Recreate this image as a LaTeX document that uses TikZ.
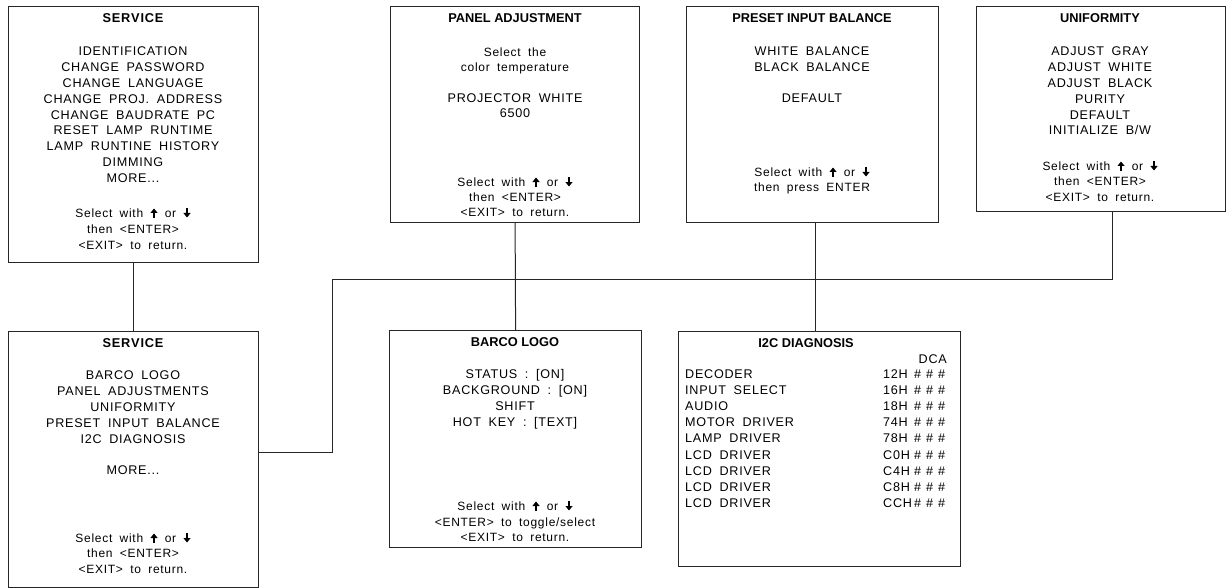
\documentclass[tikz,border=0pt]{standalone}
\usepackage{fontspec}
\usetikzlibrary{arrows.meta}
\setmainfont{Liberation Sans}
\newfontfamily\bodyf{Liberation Sans}[LetterSpace=6,WordSpace=1.8]
\newfontfamily\titlef{Liberation Sans}
\newcommand\uar{\tikz[baseline=0pt]{\draw[black, line width=1.5pt, -{Triangle[length=4.5pt,width=7pt]}] (0pt,-0.5pt) -- (0pt,9pt);}}
\newcommand\dar{\tikz[baseline=0pt]{\draw[black, line width=1.5pt, -{Triangle[length=4.5pt,width=7pt]}] (0pt,9.5pt) -- (0pt,0pt);}}
\newcommand\code[1]{\makebox[31pt][l]{#1}\#\hspace{5pt}\#\hspace{5pt}\#}
\tikzset{
  box/.style={draw=black!85, line width=1.2pt, rectangle, inner sep=0pt, anchor=north west},
  ttl/.style={font=\titlef\bfseries\fontsize{12.8}{14}\selectfont, anchor=base, inner sep=0pt},
  itm/.style={font=\bodyf\fontsize{12.6}{14}\selectfont, anchor=base, inner sep=0pt},
  hlp/.style={font=\bodyf\fontsize{12}{14}\selectfont, anchor=base, inner sep=0pt},
  row/.style={font=\bodyf\fontsize{12.6}{14}\selectfont, anchor=base west, inner sep=0pt},
  link/.style={draw=black!85, line width=1pt}
}
\begin{document}
\begin{tikzpicture}[x=1pt,y=-1pt]
\useasboundingbox (0,0) rectangle (1228,588);
% boxes
\node[box, minimum width=250, minimum height=256] (s1) at (8,6) {};
\node[box, minimum width=249, minimum height=216] (pa) at (390,6) {};
\node[box, minimum width=252, minimum height=216] (pib) at (686,6) {};
\node[box, minimum width=249, minimum height=205] (uni) at (976,6) {};
\node[box, minimum width=250, minimum height=256] (s2) at (8,331) {};
\node[box, minimum width=252, minimum height=217] (bl) at (389,330) {};
\node[box, minimum width=282, minimum height=235] (i2c) at (678,331) {};
% connectors
\coordinate (j1) at (332,279);
\coordinate (j2) at (1112,279);
\coordinate (c3) at (815,0);
\draw[link] (s1.south) -- (s2.north);
\draw[link] ([yshift=7pt]s2.east) -| (j1) -- (j2) -- (j2 |- uni.south);
\draw[link] (pa.south) -- (bl.north);
\draw[link] (pib.south -| c3) -- (i2c.north -| c3);
% SERVICE (top)
\node[ttl] (s1t) at (133,22.5) {S\kern0.8pt E\kern0.8pt R\kern0.8pt V\kern0.8pt I\kern0.8pt C\kern0.8pt E};
\node[itm] (s1a) at (133,55.5) {IDENTIFICATION};
\node[itm] (s1b) at (133,71.4) {CHANGE PASSWORD};
\node[itm] (s1c) at (133,87.3) {CHANGE LANGUAGE};
\node[itm] (s1d) at (133,103.2) {CHANGE PROJ. ADDRESS};
\node[itm] (s1e) at (133,119.1) {CHANGE BAUDRATE PC};
\node[itm] (s1f) at (133,135) {RESET LAMP RUNTIME};
\node[itm] (s1g) at (133,150.9) {LAMP RUNTINE HISTORY};
\node[itm] (s1h) at (133,166.8) {DIMMING};
\node[itm] (s1i) at (133,182.7) {MORE...};
\node[hlp] (s1x) at (133,217.5) {Select with \uar{} or \dar};
\node[hlp] (s1y) at (133,233.5) {then <ENTER>};
\node[hlp] (s1z) at (133,249.5) {<EXIT> to return.};
% PANEL ADJUSTMENT
\node[ttl] (pat) at (515,22.5) {PANEL ADJUSTMENT};
\node[hlp] (paa) at (515,56.5) {Select the};
\node[hlp] (pab) at (515,71.5) {color temperature};
\node[itm] (pac) at (515,102.5) {PROJECTOR WHITE};
\node[itm] (pad) at (515,117.5) {6500};
\node[hlp] (pax) at (515,186.5) {Select with \uar{} or \dar};
\node[hlp] (pay) at (515,201.5) {then <ENTER>};
\node[hlp] (paz) at (515,216.5) {<EXIT> to return.};
% PRESET INPUT BALANCE
\node[ttl] (pibt) at (812,22.5) {PRESET INPUT BALANCE};
\node[itm] (piba) at (812,55.5) {WHITE BALANCE};
\node[itm] (pibb) at (812,71.5) {BLACK BALANCE};
\node[itm] (pibc) at (812,102.5) {DEFAULT};
\node[hlp] (pibx) at (812,176.5) {Select with \uar{} or \dar};
\node[hlp] (piby) at (812,191.5) {then press ENTER};
% UNIFORMITY
\node[ttl] (unit) at (1100,22.5) {UNIFORMITY};
\node[itm] (unia) at (1100,55.5) {ADJUST GRAY};
\node[itm] (unib) at (1100,71.4) {ADJUST WHITE};
\node[itm] (unic) at (1100,87.3) {ADJUST BLACK};
\node[itm] (unid) at (1100,103.2) {PURITY};
\node[itm] (unie) at (1100,119.1) {DEFAULT};
\node[itm] (unif) at (1100,134.5) {INITIALIZE B/W};
\node[hlp] (unix) at (1100,170.5) {Select with \uar{} or \dar};
\node[hlp] (uniy) at (1100,185.5) {then <ENTER>};
\node[hlp] (uniz) at (1100,201.5) {<EXIT> to return.};
% SERVICE (bottom)
\node[ttl] (s2t) at (133,347.5) {S\kern0.8pt E\kern0.8pt R\kern0.8pt V\kern0.8pt I\kern0.8pt C\kern0.8pt E};
\node[itm] (s2a) at (133,379.5) {BARCO LOGO};
\node[itm] (s2b) at (133,395.4) {PANEL ADJUSTMENTS};
\node[itm] (s2c) at (133,411.3) {UNIFORMITY};
\node[itm] (s2d) at (133,427.2) {PRESET INPUT BALANCE};
\node[itm] (s2e) at (133,443.1) {I2C DIAGNOSIS};
\node[itm] (s2f) at (133,474.5) {MORE...};
\node[hlp] (s2x) at (133,542.5) {Select with \uar{} or \dar};
\node[hlp] (s2y) at (133,557.5) {then <ENTER>};
\node[hlp] (s2z) at (133,573.5) {<EXIT> to return.};
% BARCO LOGO
\node[ttl] (blt) at (515,346.5) {BARCO LOGO};
\node[itm] (bla) at (515,378.5) {STATUS : [ON]};
\node[itm] (blb) at (515,394.4) {BACKGROUND : [ON]};
\node[itm] (blc) at (515,410.3) {SHIFT};
\node[itm] (bld) at (515,426.2) {HOT KEY : [TEXT]};
\node[hlp] (blx) at (515,510.5) {Select with \uar{} or \dar};
\node[hlp] (bly) at (515,526.5) {<ENTER> to toggle/select};
\node[hlp] (blz) at (515,541.5) {<EXIT> to return.};
% I2C DIAGNOSIS
\node[ttl] (i2ct) at (806,347.5) {I2C DIAGNOSIS};
\node[itm, anchor=base east] (dca) at (947,363.5) {DCA};
\node[row] (r1) at (685,378.5) {DECODER};
\node[row] (r2) at (685,394.6) {INPUT SELECT};
\node[row] (r3) at (685,410.7) {AUDIO};
\node[row] (r4) at (685,426.8) {MOTOR DRIVER};
\node[row] (r5) at (685,442.9) {LAMP DRIVER};
\node[row] (r6) at (685,459) {LCD DRIVER};
\node[row] (r7) at (685,475.1) {LCD DRIVER};
\node[row] (r8) at (685,491.2) {LCD DRIVER};
\node[row] (r9) at (685,507.3) {LCD DRIVER};
\node[row] (v1) at (883,378.5) {\code{12H}};
\node[row] (v2) at (883,394.6) {\code{16H}};
\node[row] (v3) at (883,410.7) {\code{18H}};
\node[row] (v4) at (883,426.8) {\code{74H}};
\node[row] (v5) at (883,442.9) {\code{78H}};
\node[row] (v6) at (883,459) {\code{C0H}};
\node[row] (v7) at (883,475.1) {\code{C4H}};
\node[row] (v8) at (883,491.2) {\code{C8H}};
\node[row] (v9) at (883,507.3) {\code{CCH}};
\end{tikzpicture}
\end{document}
